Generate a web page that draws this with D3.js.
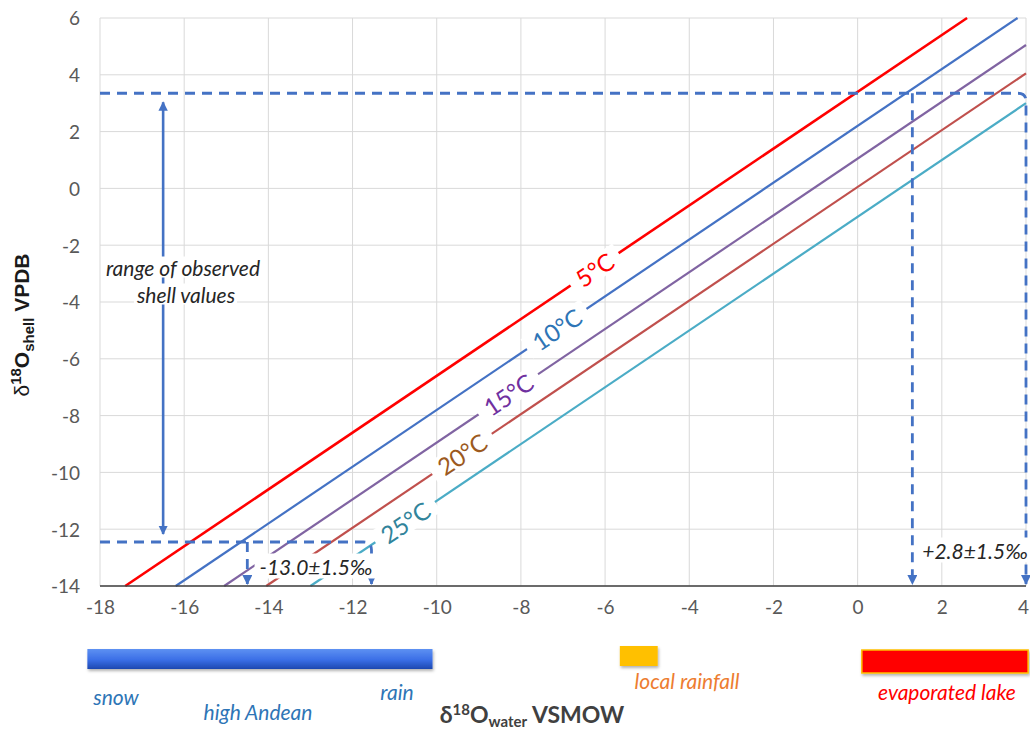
<!DOCTYPE html>
<html><head><meta charset="utf-8">
<script src="https://cdn.jsdelivr.net/npm/d3@7"></script>
<style>body{margin:0;background:#fff}svg{display:block}</style>
</head><body>
<svg id="c" width="1030" height="732"></svg>
<script>
// ---- data ----
const xTicks = [-18,-16,-14,-12,-10,-8,-6,-4,-2,0,2,4];
const yTicks = [-14,-12,-10,-8,-6,-4,-2,0,2,4,6];
const temps = ["5°C","10°C","15°C","20°C","25°C"];
const lineStart = [[-17.4,-14],[-16.2,-14],[-15.05,-14],[-14.05,-14],[-13.0,-14]];
const lineEnd   = [[2.6,6],[3.8,6],[4,5.05],[4,4.05],[4,3.0]];
const labelX    = [-6.25,-7.15,-8.3,-9.4,-10.75];
const shellRange = [3.35,-12.45];          // observed shell values (y)
const lowWater  = [-14.5,-11.55];          // -13.0 ± 1.5
const highWater = [1.3,4.0];               // +2.8 ± 1.5
const rangeArrowX = -16.5;
const barNames = ["high Andean","local rainfall","evaporated lake"];
const barStart = [-18.3,-5.65,0.1];
const barEnd   = [-10.1,-4.75,4.05];

// ---- styles ----
const lineColors  = ["#FF0000","#4472C4","#8064A2","#C0504D","#4BACC6"];
const labelColors = ["#FF0000","#2E75B6","#7030A0","#9C5A1E","#31849B"];
const lineWidths  = [2.6,2.2,2.2,2.2,2.2];
const dashColor = "#4472C4";
const FONT = "Lato, 'Open Sans', sans-serif";

const svg = d3.select("#c");
const x = d3.scaleLinear([-18,4],[100,1026]);
const y = d3.scaleLinear([-14,6],[586,18]);

const defs = svg.append("defs");
defs.append("marker").attr("id","ah").attr("viewBox","0 0 10 10").attr("refX",9).attr("refY",5)
  .attr("markerWidth",3.6).attr("markerHeight",3.6).attr("orient","auto-start-reverse")
  .attr("markerUnits","strokeWidth")
  .append("path").attr("d","M0,0 L10,5 L0,10 z").attr("fill",dashColor);
const gb = defs.append("linearGradient").attr("id","gBlue").attr("x1",0).attr("x2",0).attr("y1",0).attr("y2",1);
gb.append("stop").attr("offset","0%").attr("stop-color","#5e91f2");
gb.append("stop").attr("offset","55%").attr("stop-color","#3a6ee6");
gb.append("stop").attr("offset","100%").attr("stop-color","#1d48b0");
const sh = defs.append("filter").attr("id","shadow").attr("x","-10%").attr("y","-30%").attr("width","130%").attr("height","180%");
sh.append("feDropShadow").attr("dx",1).attr("dy",2).attr("stdDeviation",1.5).attr("flood-color","#000").attr("flood-opacity",0.3);

// grid
svg.append("g").selectAll("line").data(xTicks).join("line")
  .attr("x1",d=>x(d)).attr("x2",d=>x(d)).attr("y1",y(6)).attr("y2",y(-14))
  .attr("stroke","#d9d9d9").attr("stroke-width",1);
svg.append("g").selectAll("line").data(yTicks).join("line")
  .attr("x1",x(-18)).attr("x2",x(4)).attr("y1",d=>y(d)).attr("y2",d=>y(d))
  .attr("stroke","#d9d9d9").attr("stroke-width",1);

// tick labels via axes
const yAxis = svg.append("g").attr("transform",`translate(${x(-18)},0)`)
  .call(d3.axisLeft(y).tickValues(yTicks).tickSize(0).tickPadding(20).tickFormat(d=>String(d)));
const xAxis = svg.append("g").attr("transform",`translate(0,${y(-14)})`)
  .call(d3.axisBottom(x).tickValues(xTicks).tickSize(0).tickPadding(20).tickFormat(d=>String(d)));
[yAxis,xAxis].forEach(a=>{
  a.select(".domain").remove();
  a.selectAll("text").attr("font-family",FONT).attr("font-size",19).attr("fill","#595959");
});
xAxis.selectAll("text").attr("dy","0.4em");
xAxis.selectAll("text").filter(d=>d===4).attr("dx",-3);
yAxis.selectAll("text").attr("dy","0.36em");

// temperature lines
const line = d3.line().x(d=>x(d[0])).y(d=>y(d[1]));
svg.append("g").selectAll("path").data(temps).join("path")
  .attr("d",(d,i)=>line([lineStart[i],lineEnd[i]]))
  .attr("fill","none").attr("stroke",(d,i)=>lineColors[i]).attr("stroke-width",(d,i)=>lineWidths[i]);

// dashed guide lines
const dg = svg.append("g").attr("fill","none").attr("stroke",dashColor).attr("stroke-width",2.8).attr("stroke-dasharray","10,7");
function elbow(yv, xr){
  const r = 8;
  return `M${x(-18)},${y(yv)} H${x(xr)-r} Q${x(xr)},${y(yv)} ${x(xr)},${y(yv)+r} V${y(-14)-2}`;
}
dg.append("path").attr("d",elbow(shellRange[0],highWater[1])).attr("marker-end","url(#ah)");
dg.append("path").attr("d",elbow(shellRange[1],lowWater[1])).attr("marker-end","url(#ah)");
dg.append("line").attr("x1",x(highWater[0])).attr("x2",x(highWater[0])).attr("y1",y(shellRange[0])).attr("y2",y(-14)-2).attr("marker-end","url(#ah)");
dg.append("line").attr("x1",x(lowWater[0])).attr("x2",x(lowWater[0])).attr("y1",y(shellRange[1])).attr("y2",y(-14)-2).attr("marker-end","url(#ah)");

// solid double arrow
svg.append("line").attr("x1",x(rangeArrowX)).attr("x2",x(rangeArrowX))
  .attr("y1",y(shellRange[0])+9).attr("y2",y(shellRange[1])-8)
  .attr("stroke",dashColor).attr("stroke-width",2.6)
  .attr("marker-start","url(#ah)").attr("marker-end","url(#ah)");

// bottom axis line
svg.append("line").attr("x1",x(-18)).attr("x2",x(4)).attr("y1",y(-14)).attr("y2",y(-14))
  .attr("stroke","#404040").attr("stroke-width",1.5);

// text box helper
function boxText(g, txt, cx, cy, size, color, padX, padY, italic){
  const gg = g.append("g");
  const rect = gg.append("rect").attr("fill","#fff");
  const t = gg.append("text").attr("x",cx).attr("y",cy).attr("text-anchor","middle")
    .attr("dominant-baseline","central").attr("font-family",FONT)
    .attr("font-size",size).attr("fill",color).attr("font-style",italic?"italic":"normal").text(txt);
  const bb = t.node().getBBox();
  rect.attr("x",bb.x-padX).attr("y",bb.y-padY).attr("width",bb.width+2*padX).attr("height",bb.height+2*padY);
  return t;
}

// line labels
const ang = Math.atan2(y(0)-y(1), x(1)-x(0))*180/Math.PI;
temps.forEach((t,i)=>{
  const lx = labelX[i];
  const ly = lineStart[i][1] + (lx-lineStart[i][0]);
  const g = svg.append("g").attr("transform",`translate(${x(lx)},${y(ly)}) rotate(${-ang})`);
  boxText(g, t, 0, 0, 24, labelColors[i], 9, -3, false);
});

// annotation labels
const ag = svg.append("g");
boxText(ag,"range of observed",183,267,21,"#262626",2,-2,true);
boxText(ag,"shell values",186,294,21,"#262626",2,-2,true);
boxText(ag,"-13.0±1.5‰",316,566,21,"#262626",5,0,true);
boxText(ag,"+2.8±1.5‰",975,550,21,"#262626",6,0,true);

// water range bars
const bars = svg.append("g");
const barY = [649,646,650], barH = [20,20,23];
const barFill = ["url(#gBlue)","#FFC000","#FF0000"];
barNames.forEach((n,i)=>{
  bars.append("rect").attr("x",x(barStart[i])).attr("y",barY[i])
    .attr("width",x(barEnd[i])-x(barStart[i])).attr("height",barH[i])
    .attr("fill",barFill[i]).attr("filter","url(#shadow)")
    .attr("stroke",i===2?"#FFC000":"none").attr("stroke-width",i===2?1.5:0);
});
const bl = svg.append("g").attr("font-family",FONT).attr("font-style","italic").attr("font-size",21).attr("text-anchor","middle");
[["snow",116,705,"#2E75B6"],["high Andean",258,720,"#2E75B6"],["rain",397,700,"#2E75B6"],
 ["local rainfall",687,689,"#ED7D31"],["evaporated lake",947,700,"#FF0000"]].forEach(d=>{
  bl.append("text").attr("x",d[1]).attr("y",d[2]).attr("fill",d[3]).text(d[0]);
});

// axis titles
const xt = svg.append("text").attr("x",532).attr("y",723).attr("text-anchor","middle")
  .attr("font-family",FONT).attr("font-weight","bold").attr("font-size",23).attr("fill","#404040");
xt.append("tspan").text("δ");
xt.append("tspan").attr("font-size",15).attr("dy",-8).text("18");
xt.append("tspan").attr("dy",8).text("O");
xt.append("tspan").attr("font-size",15).attr("dy",4).text("water");
xt.append("tspan").attr("dy",-4).text(" VSMOW");

const yt = svg.append("text").attr("transform","translate(29,325) rotate(-90)").attr("text-anchor","middle")
  .attr("font-family","'Liberation Sans', Arial, sans-serif").attr("font-weight","bold").attr("font-size",21).attr("fill","#1a1a1a");
yt.append("tspan").attr("font-weight","normal").text("δ");
yt.append("tspan").attr("font-size",15).attr("dy",-8).text("18");
yt.append("tspan").attr("dy",8).text("O");
yt.append("tspan").attr("font-size",15).attr("dy",5).text("shell");
yt.append("tspan").attr("dy",-5).text(" VPDB");
</script>
</body></html>
